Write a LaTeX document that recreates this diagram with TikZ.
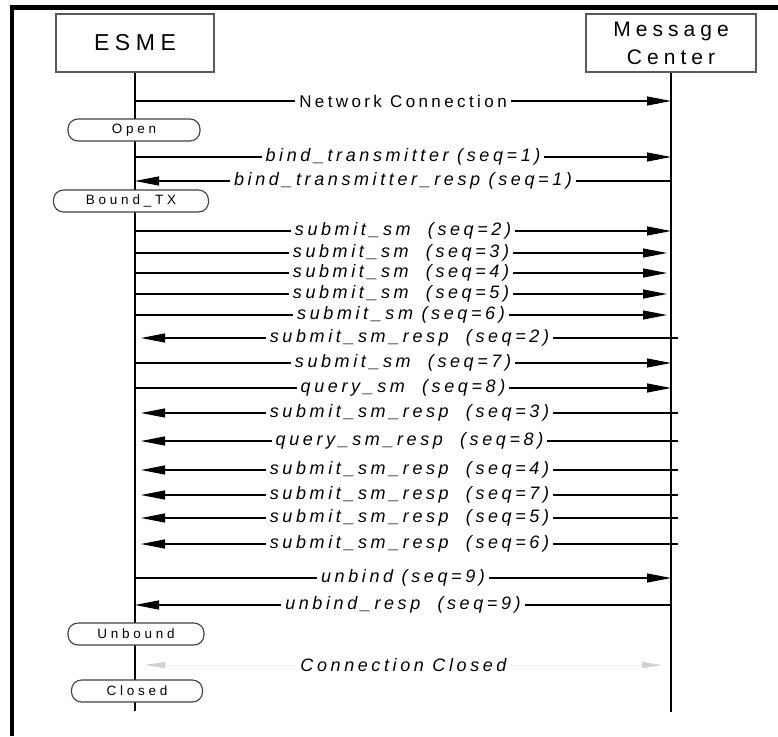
\documentclass[tikz,border=0pt]{standalone}
\usepackage{fontspec}
\setmainfont{Liberation Sans}
\newfontfamily\hdrfont{Liberation Sans}[LetterSpace=24]
\newfontfamily\lblfont{Liberation Sans}[LetterSpace=20]
\newfontfamily\stfont{Liberation Sans}[LetterSpace=28]
\usetikzlibrary{arrows.meta}
\newcommand\msgR[3]{%
  \coordinate (#1s) at (135,#2); \coordinate (#1t) at (671,#2);
  \draw[msg,tip] (#1s) -- node[lbl]{#3} (#1t);}
\newcommand\msgRs[3]{%
  \coordinate (#1s) at (135,#2); \coordinate (#1t) at (667,#2);
  \draw[msg,tip] (#1s) -- node[lbl]{#3} (#1t);}
\newcommand\msgL[3]{%
  \coordinate (#1s) at (671,#2); \coordinate (#1t) at (135,#2);
  \draw[msg,tip] (#1s) -- node[lbl]{#3} (#1t);}
\newcommand\msgLo[3]{%
  \coordinate (#1s) at (678,#2); \coordinate (#1t) at (141,#2);
  \draw[msg,tip] (#1s) -- node[lbl]{#3} (#1t);}
\begin{document}
\begin{tikzpicture}[x=1pt,y=-1pt,
  hdr/.style={draw=black!65,line width=1.6pt,fill=white,font=\hdrfont\fontsize{21}{28}\selectfont,text=black,align=center},
  lifeline/.style={line width=2pt,black},
  state/.style={draw=black!75,line width=1.1pt,rounded corners=10pt,fill=white,minimum height=22pt,inner sep=0pt,font=\stfont\fontsize{13.5}{15}\selectfont,text=black},
  msg/.style={line width=1.1pt,black},
  tip/.style={-{Triangle[length=24pt,width=9pt]}},
  lbl/.style={fill=white,inner xsep=4pt,inner ysep=1pt,font=\lblfont\itshape\fontsize{18}{20}\selectfont,text=black},
  frame/.style={line width=4.5pt,black,line join=miter}]
\useasboundingbox (0,0) rectangle (778,736);
\draw[frame] (12,736) -- (12,7.5) -- (778,7.5);
% headers
\node[hdr,minimum width=158pt,minimum height=58pt] (esme) at (135,43) {\raisebox{-3pt}{\fontsize{23}{26}\selectfont ESME}};
\node[hdr,minimum width=170pt,minimum height=58pt] (mc) at (671,43) {Message\\Center};
% lifelines
\coordinate (esmeEnd) at (135,711);
\coordinate (mcEnd) at (671,712);
\draw[lifeline] (esme.south) -- (esmeEnd);
\draw[lifeline] (mc.south) -- (mcEnd);
% states
\node[state,minimum width=132pt] (open) at (134,130) {Open};
\node[state,minimum width=155pt] (bound) at (131,201) {Bound\_TX};
\node[state,minimum width=136pt] (unbound) at (136,634) {Unbound};
\node[state,minimum width=131pt] (closed) at (137,691) {Closed};
% messages
\coordinate (nc s) at (135,101); \coordinate (nc t) at (671,101);
\draw[msg,tip] (nc s) -- node[lbl,font=\lblfont\fontsize{17}{19}\selectfont]{Network Connection} (nc t);
\msgR{m1}{157}{bind\_transmitter (seq=1)}
\msgL{m2}{181}{bind\_transmitter\_resp (seq=1)}
\msgR{m3}{231}{submit\_sm\ \ (seq=2)}
\msgRs{m4}{253}{submit\_sm\ \ (seq=3)}
\msgRs{m5}{273}{submit\_sm\ \ (seq=4)}
\msgRs{m6}{294}{submit\_sm\ \ (seq=5)}
\msgRs{m7}{315}{submit\_sm (seq=6)}
\msgLo{m8}{338}{submit\_sm\_resp\ \ (seq=2)}
\msgR{m9}{363}{submit\_sm\ \ (seq=7)}
\msgR{m10}{388}{query\_sm\ \ (seq=8)}
\msgLo{m11}{413}{submit\_sm\_resp\ \ (seq=3)}
\msgLo{m12}{441}{query\_sm\_resp\ \ (seq=8)}
\msgLo{m13}{470}{submit\_sm\_resp\ \ (seq=4)}
\msgLo{m14}{495}{submit\_sm\_resp\ \ (seq=7)}
\msgLo{m15}{518}{submit\_sm\_resp\ \ (seq=5)}
\msgLo{m16}{544}{submit\_sm\_resp\ \ (seq=6)}
\msgR{m17}{578}{unbind (seq=9)}
\msgL{m18}{605}{unbind\_resp\ \ (seq=9)}
% connection closed
\coordinate (cc s) at (145,665); \coordinate (cc t) at (662,665);
\draw[line width=0.8pt,black!6,{Triangle[length=20pt,width=6pt,color=black!18]}-{Triangle[length=20pt,width=6pt,color=black!18]}] (cc s) -- node[lbl,text=black]{Connection Closed} (cc t);
\end{tikzpicture}
\end{document}
